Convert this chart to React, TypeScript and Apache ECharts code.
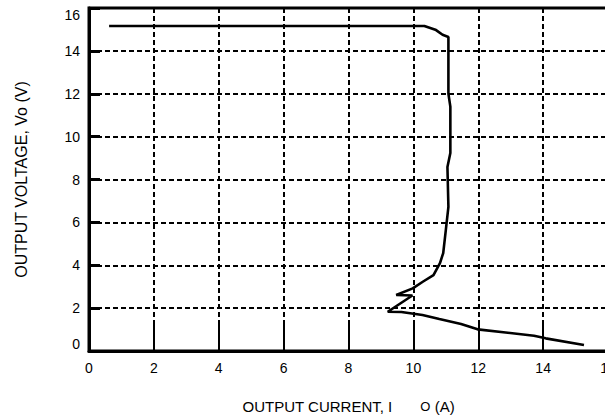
import React, { useEffect, useRef } from "react";
import * as echarts from "echarts";

// Output current (A) and output voltage (V) along the traced curve
const currentA = [
  0.62, 10.34, 10.7, 10.9, 11.08, 11.08, 11.14, 11.14, 11.05, 11.08, 11.0, 10.92, 10.82,
  10.62, 10.29, 9.98, 9.47, 9.97, 9.21, 9.63, 10.28, 10.8, 11.47, 11.98, 13.72, 14.08, 15.26,
];
const voltageV = [
  15.16, 15.16, 14.97, 14.75, 14.65, 12.0, 11.4, 9.24, 8.58, 6.72, 5.64, 4.57, 4.1,
  3.54, 3.23, 2.92, 2.61, 2.59, 1.83, 1.82, 1.68, 1.49, 1.26, 1.01, 0.71, 0.59, 0.28,
];

const xMin = 0;
const xMax = 16;
const xStep = 2;
const yMin = 0;
const yMax = 16;
const yStep = 2;

const xTitle = "OUTPUT CURRENT, I";
const xTitleSub = "O";
const xTitleUnit = " (A)";
const yTitle = "OUTPUT VOLTAGE, Vo (V)";

const FONT = "'Liberation Sans', Arial, sans-serif";

export default function App() {
  const ref = useRef<HTMLDivElement>(null);

  useEffect(() => {
    if (!ref.current) return;
    const chart = echarts.init(ref.current, null, { renderer: "svg" });
    const points = currentA.map((x, i) => [x, voltageV[i]]);
    const gridLine = { color: "#000", width: 2, type: [5, 3] as number[] };
    chart.setOption({
      animation: false,
      backgroundColor: "#fff",
      grid: {
        left: 89,
        top: 8,
        right: -3,
        bottom: 68,
        outerBoundsMode: "none",
        containLabel: false,
        show: true,
        borderColor: "#000",
        borderWidth: 3,
      },
      xAxis: {
        type: "value",
        min: xMin,
        max: xMax,
        interval: xStep,
        name: `{a|${xTitle}}{b|${xTitleSub}}{a|${xTitleUnit}}`,
        nameLocation: "middle",
        nameGap: 48,
        nameTextStyle: {
          rich: {
            a: { fontSize: 15, fontFamily: FONT, color: "#000" },
            b: { fontSize: 13, fontFamily: FONT, color: "#000", padding: [0, 0, 0, 28] },
          },
        },
        axisLine: { show: true, onZero: false, lineStyle: { color: "#000", width: 3 } },
        axisTick: { show: true, inside: true, length: 26, lineStyle: { color: "#000", width: 2 } },
        axisLabel: { color: "#000", fontSize: 14, fontFamily: FONT, margin: 10 },
        splitLine: { show: true, lineStyle: gridLine },
      },
      yAxis: {
        type: "value",
        min: yMin,
        max: yMax,
        interval: yStep,
        name: yTitle,
        nameLocation: "middle",
        nameGap: 60,
        nameTextStyle: { fontSize: 16, fontFamily: FONT, color: "#000" },
        axisLine: { show: true, onZero: false, lineStyle: { color: "#000", width: 3 } },
        axisTick: { show: true, inside: true, length: 11, lineStyle: { color: "#000", width: 3 } },
        axisLabel: {
          color: "#000",
          fontSize: 14,
          fontFamily: FONT,
          margin: 9,
          verticalAlignMaxLabel: "top",
          verticalAlignMinLabel: "bottom",
        },
        splitLine: { show: true, lineStyle: gridLine },
      },
      series: [
        {
          type: "line",
          data: points,
          showSymbol: false,
          symbol: "none",
          lineStyle: { color: "#000", width: 2.6 },
          z: 5,
        },
      ],
    });
    return () => chart.dispose();
  }, []);

  return (
    <div
      ref={ref}
      style={{ position: "fixed", left: 0, top: 0, width: 605, height: 419, background: "#fff" }}
    />
  );
}
